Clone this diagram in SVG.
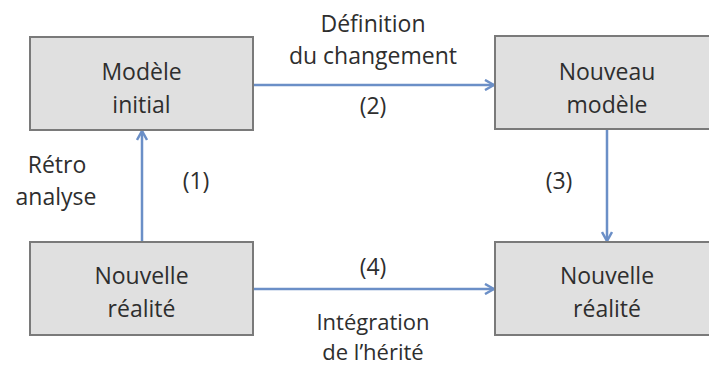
<svg xmlns="http://www.w3.org/2000/svg" width="709" height="365" viewBox="0 0 709 365">
<style>
.box{fill:#e0e0e0;stroke:#7a7a7a;stroke-width:2}
.t{font-family:"Open Sans","Liberation Sans",sans-serif;font-size:23px;fill:#2e2e2e;text-anchor:middle}
.s{font-size:22px}
.c{fill:none;stroke:#6b8fc7;stroke-width:2.5}
</style>
<defs>
<marker id="ah" viewBox="0 0 12 12" refX="11" refY="6" markerWidth="12" markerHeight="12" markerUnits="userSpaceOnUse" orient="auto">
<path d="M2,1 L11,6 L2,11" fill="none" stroke="#6b8fc7" stroke-width="2.5"/>
</marker>
</defs>
<rect width="709" height="365" fill="#fff"/>
<g id="connectors">
<line class="c" x1="142" y1="242" x2="142" y2="131" marker-end="url(#ah)"/>
<line class="c" x1="254" y1="85" x2="494" y2="85" marker-end="url(#ah)"/>
<line class="c" x1="607" y1="130" x2="607" y2="241" marker-end="url(#ah)"/>
<line class="c" x1="254" y1="289" x2="494" y2="289" marker-end="url(#ah)"/>
</g>
<g id="modele-initial">
<rect class="box" x="30" y="37" width="223" height="93"/>
<text class="t" x="141.5" y="80">Modèle</text>
<text class="t" x="141.5" y="113">initial</text>
</g>
<g id="nouveau-modele">
<rect class="box" x="495" y="36" width="230" height="93"/>
<text class="t" x="607" y="80">Nouveau</text>
<text class="t" x="607" y="113">modèle</text>
</g>
<g id="nouvelle-realite-1">
<rect class="box" x="30" y="242" width="223" height="93"/>
<text class="t" x="141.5" y="284">Nouvelle</text>
<text class="t" x="141.5" y="317">réalité</text>
</g>
<g id="nouvelle-realite-2">
<rect class="box" x="495" y="242" width="230" height="93"/>
<text class="t" x="607" y="284">Nouvelle</text>
<text class="t" x="607" y="317">réalité</text>
</g>
<g id="labels">
<text class="t" x="373" y="32">Définition</text>
<text class="t" x="373" y="64">du changement</text>
<text class="t" x="373" y="114">(2)</text>
<text class="t" x="57" y="173">Rétro</text>
<text class="t" x="56" y="205">analyse</text>
<text class="t" x="196" y="189">(1)</text>
<text class="t" x="559" y="189">(3)</text>
<text class="t" x="373" y="275">(4)</text>
<text class="t s" x="373" y="330">Intégration</text>
<text class="t s" x="373" y="360">de l’hérité</text>
</g>
</svg>
